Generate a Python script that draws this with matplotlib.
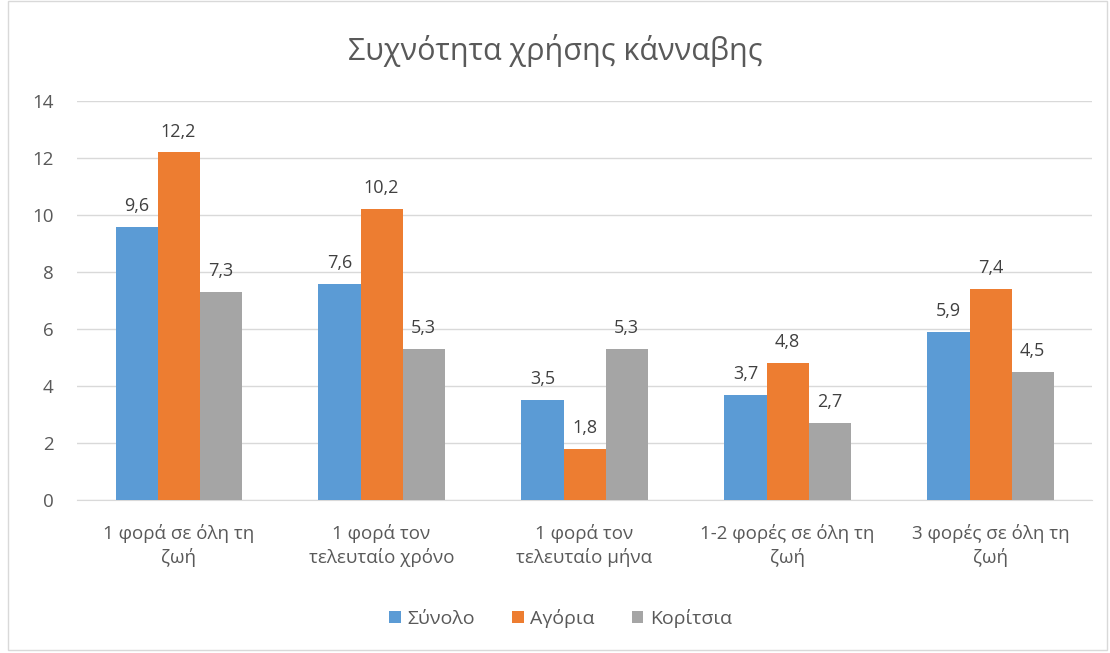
import matplotlib
matplotlib.use("Agg")
import matplotlib.pyplot as plt
import numpy as np

plt.rcParams['font.family'] = ['Open Sans', 'DejaVu Sans']

categories = ["1 φορά σε όλη τη\nζωή", "1 φορά τον\nτελευταίο χρόνο", "1 φορά τον\nτελευταίο μήνα",
              "1-2 φορές σε όλη τη\nζωή", "3 φορές σε όλη τη\nζωή"]
synolo = [9.6, 7.6, 3.5, 3.7, 5.9]
agoria = [12.2, 10.2, 1.8, 4.8, 7.4]
koritsia = [7.3, 5.3, 5.3, 2.7, 4.5]
series_names = ["Σύνολο", "Αγόρια", "Κορίτσια"]
colors = ["#5B9BD5", "#ED7D31", "#A5A5A5"]

fig = plt.figure(figsize=(11.1, 6.53), dpi=100)
ax = fig.add_axes([0.0694, 0.2343, 0.9144, 0.6107])

# outer frame like the office chart border
fig.patches.append(plt.Rectangle((0.007, 0.004), 0.99, 0.995, transform=fig.transFigure,
                                 fill=False, edgecolor="#D9D9D9", linewidth=1))

x = np.arange(len(categories))
w = 0.207
for i, (vals, name, c) in enumerate(zip([synolo, agoria, koritsia], series_names, colors)):
    pos = x + (i - 1) * w
    ax.bar(pos, vals, width=w, color=c, label=name, zorder=3)
    for xp, v in zip(pos, vals):
        ax.text(xp, v + 0.42, str(v).replace(".", ","), ha="center", va="bottom",
                fontsize=13, color="#404040")

ax.set_xlim(-0.5, len(categories) - 0.5)
ax.set_ylim(0, 14)
ax.set_yticks(range(0, 15, 2))
ax.yaxis.grid(True, color="#D9D9D9", linewidth=1, zorder=0)
ax.set_axisbelow(True)
for s in ["top", "right", "left"]:
    ax.spines[s].set_visible(False)
ax.spines["bottom"].set_color("#D9D9D9")
ax.tick_params(axis="both", length=0, labelsize=13.5, colors="#595959")
ax.tick_params(axis="y", pad=17)
ax.tick_params(axis="x", pad=17)
ax.set_xticks(x)
ax.set_xticklabels(categories, linespacing=1.35)

fig.text(0.5, 0.922, "Συχνότητα χρήσης κάνναβης", ha="center", va="center",
         fontsize=22, color="#595959")

ax.legend(loc="center", bbox_to_anchor=(0.505, 0.053), bbox_transform=fig.transFigure,
          ncol=3, frameon=False, fontsize=14, handlelength=0.6, handleheight=0.6,
          columnspacing=1.9, handletextpad=0.35, labelcolor="#595959")

fig.savefig("out.png", dpi=100)
